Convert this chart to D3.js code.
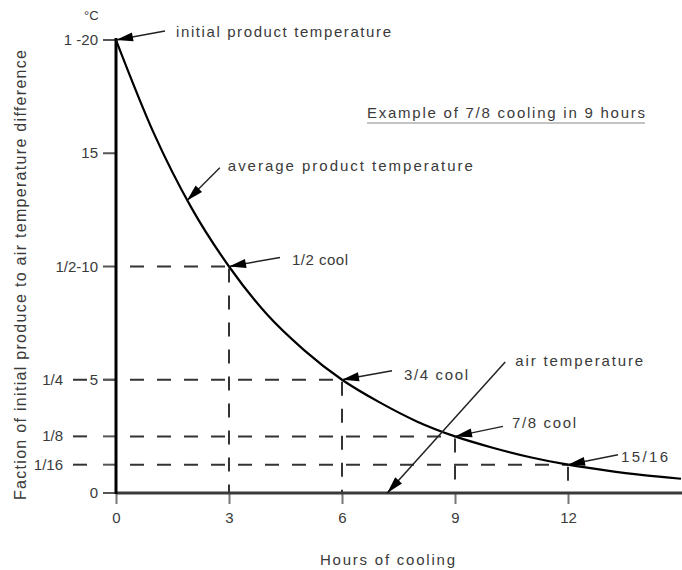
<!DOCTYPE html>
<html>
<head>
<meta charset="utf-8">
<script src="https://cdn.jsdelivr.net/npm/d3@7"></script>
<style>
  body { margin: 0; background: #fff; }
  text { font-family: "Liberation Sans", Arial, sans-serif; fill: #3a3a3a; }
</style>
</head>
<body>
<div id="graphic"></div>
<script>
// Chart data
var hours = [0, 1, 2, 3, 4, 5, 6, 7, 8, 9, 10, 11, 12, 13, 14, 15];
var productTemp = [20, 15.9, 12.6, 10, 7.9, 6.3, 5, 4, 3.15, 2.5, 2, 1.58, 1.25, 1.0, 0.79, 0.63];

var xTicks = [0, 3, 6, 9, 12];
var yTickValues = [0, 5, 10, 15, 20];
var yTickLabels = ['0', '5', '1/2-10', '15', '1 -20'];
var fractionValues = [1.25, 2.5, 5];
var fractionLabels = ['1/16', '1/8', '1/4'];

var coolHours = [3, 6, 9, 12];
var coolTemps = [10, 5, 2.5, 1.25];

var annoTexts = ['initial product temperature', 'average product temperature', '1/2 cool',
  '3/4 cool', '7/8 cool', '15/16', 'air temperature'];
var annoHours = [0, 1.88, 3, 6, 9, 12, 7.2];
var annoTemps = [20, 12.9, 10, 5, 2.5, 1.25, 0];

/*
 * Render the graphic.
 */
var renderGraphic = function (config) {
  var width = 682, height = 570;
  var svg = d3.select(config.container).append('svg')
    .attr('width', width).attr('height', height);

  var x = d3.scaleLinear().domain([0, 15]).range([116, 681]);
  var y = d3.scaleLinear().domain([0, 20]).range([493, 40]);

  // arrow tail / label offsets (px) for each annotation
  var annoLayout = [
    { tx: 49, ty: -9, lx: 60, ly: -3, w: 215 },
    { tx: 33, ty: -33, lx: 41, ly: -30, w: 245 },
    { tx: 51, ty: -9, lx: 63, ly: -2, w: 56 },
    { tx: 50, ty: -9, lx: 62, ly: 0, w: 64 },
    { tx: 48, ty: -10, lx: 57, ly: -8, w: 64 },
    { tx: 50, ty: -10, lx: 53, ly: -3, w: 47 },
    { tx: 118, ty: -131, lx: 128, ly: -127, w: 128 }
  ];

  var dash = '14,13';

  // Dashed guides: horizontal from axis to the cool point, vertical down to x axis
  var guides = svg.append('g').attr('stroke', '#333').attr('stroke-width', 2).attr('fill', 'none');
  coolHours.forEach(function (h, i) {
    guides.append('line')
      .attr('x1', x(0) + 2).attr('x2', x(h))
      .attr('y1', y(coolTemps[i])).attr('y2', y(coolTemps[i]))
      .attr('stroke-dasharray', dash).attr('stroke-dashoffset', -12);
    guides.append('line')
      .attr('x1', x(h)).attr('x2', x(h))
      .attr('y1', y(coolTemps[i]) + 2).attr('y2', y(0))
      .attr('stroke-dasharray', dash).attr('stroke-dashoffset', 0);
  });
  // leader dashes left of the axis for the fraction labels
  fractionValues.forEach(function (v) {
    guides.append('line')
      .attr('x1', 73).attr('x2', 87)
      .attr('y1', y(v)).attr('y2', y(v));
  });

  // Y ticks
  var yt = svg.append('g');
  yTickValues.concat(fractionValues).forEach(function (v) {
    yt.append('line').attr('x1', 103).attr('x2', x(0)).attr('y1', y(v)).attr('y2', y(v))
      .attr('stroke', '#555').attr('stroke-width', 2);
  });
  yTickValues.forEach(function (v, i) {
    yt.append('text').attr('x', 98).attr('y', y(v) + 5)
      .attr('text-anchor', 'end').attr('font-size', 15).text(yTickLabels[i]);
  });
  fractionValues.forEach(function (v, i) {
    yt.append('text').attr('x', 63).attr('y', y(v) + 5)
      .attr('text-anchor', 'end').attr('font-size', 15).text(fractionLabels[i]);
  });
  svg.append('text').attr('x', 84).attr('y', 20).attr('font-size', 13).text('\u00B0C');

  // X axis
  var xAxis = d3.axisBottom(x).tickValues(xTicks).tickSize(11).tickPadding(8)
    .tickFormat(d3.format('d'));
  var xg = svg.append('g').attr('transform', 'translate(0,' + y(0) + ')').call(xAxis);
  xg.select('.domain').remove();
  xg.selectAll('.tick line').attr('stroke', '#777').attr('stroke-width', 2);
  xg.selectAll('.tick text').attr('font-size', 15)
    .attr('font-family', '"Liberation Sans", Arial, sans-serif').attr('fill', '#3a3a3a');

  svg.append('line').attr('x1', x(0)).attr('x2', 682).attr('y1', y(0)).attr('y2', y(0))
    .attr('stroke', '#3a3a3a').attr('stroke-width', 3);
  svg.append('line').attr('x1', x(0)).attr('x2', x(0)).attr('y1', y(20) - 2).attr('y2', y(0) + 1)
    .attr('stroke', '#000').attr('stroke-width', 3);

  // Axis titles
  svg.append('text').attr('x', 320).attr('y', 565).attr('font-size', 15)
    .attr('textLength', 135).attr('lengthAdjust', 'spacing').text('Hours of cooling');
  svg.append('text').attr('transform', 'translate(26,500) rotate(-90)')
    .attr('font-size', 16).attr('textLength', 450).attr('lengthAdjust', 'spacing')
    .text('Faction of initial produce to air temperature difference');

  // Product temperature curve
  var line = d3.line().x(function (d) { return x(d[0]); }).y(function (d) { return y(d[1]); })
    .curve(d3.curveMonotoneX);
  svg.append('path').datum(d3.zip(hours, productTemp))
    .attr('d', line).attr('fill', 'none').attr('stroke', '#000').attr('stroke-width', 2.2);

  // Example title
  svg.append('text').attr('x', 367).attr('y', 118).attr('font-size', 15)
    .attr('textLength', 278).attr('lengthAdjust', 'spacing').attr('fill', '#222')
    .text('Example of 7/8 cooling in 9 hours');
  svg.append('line').attr('x1', 367).attr('x2', 645).attr('y1', 123).attr('y2', 123)
    .attr('stroke', '#888').attr('stroke-width', 1);

  // Annotations with arrows
  var ag = svg.append('g');
  annoTexts.forEach(function (t, i) {
    var px = x(annoHours[i]), py = y(annoTemps[i]);
    var L = annoLayout[i];
    var qx = px + L.tx, qy = py + L.ty;
    ag.append('line').attr('x1', qx).attr('y1', qy).attr('x2', px).attr('y2', py)
      .attr('stroke', '#222').attr('stroke-width', 1.5);
    var ang = Math.atan2(qy - py, qx - px);
    var len = 17, hw = 4.5;
    var bx = px + Math.cos(ang) * len, by = py + Math.sin(ang) * len;
    var nx = -Math.sin(ang) * hw, ny = Math.cos(ang) * hw;
    ag.append('path')
      .attr('d', 'M' + px + ',' + py + 'L' + (bx + nx) + ',' + (by + ny) +
        'L' + (bx - nx) + ',' + (by - ny) + 'Z')
      .attr('fill', '#000');
    ag.append('text').attr('x', px + L.lx).attr('y', py + L.ly).attr('font-size', 15)
      .attr('textLength', L.w).attr('lengthAdjust', 'spacing').text(t);
  });
};

window.onload = function () {
  renderGraphic({ container: '#graphic' });
};
</script>
</body>
</html>
